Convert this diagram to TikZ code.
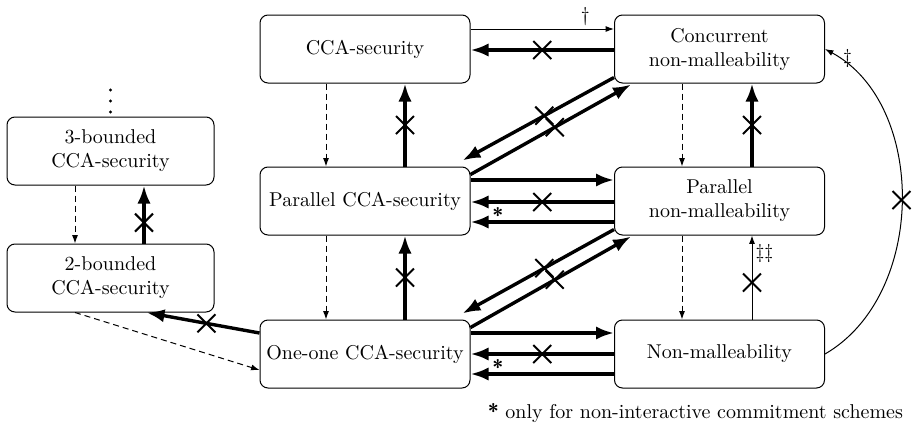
\documentclass[tikz,border=0pt]{standalone}
\usetikzlibrary{arrows.meta,shapes.misc,calc}
\newcommand{\onlynoninter}{{\sffamily\bfseries *}}
\begin{document}
\begin{tikzpicture}[x=0.5pt,y=-0.5pt,
  box/.style={draw, line width=0.5pt, rounded corners=4pt, minimum width=105pt,
    minimum height=34pt, align=center, inner sep=2pt},
  sidebox/.style={box, minimum width=103.5pt},
  imp/.style={line width=1.7pt, -{Latex[length=9pt,width=6.6pt]}},
  thinimp/.style={line width=0.5pt, -{Latex[length=4.2pt,width=3pt]}},
  dashimp/.style={line width=0.5pt, dash pattern=on 3pt off 2pt, -{Latex[length=4.2pt,width=3pt]}},
  xmark/.style={cross out, draw, solid, line width=1pt, minimum size=8pt, inner sep=0pt},
  note/.style={inner sep=1.5pt},
  starnote/.style={above, inner sep=0pt, yshift=-1pt},
  dot/.style={circle, fill, inner sep=0pt, minimum size=1.7pt}]
\useasboundingbox (0,0) rectangle (912,440);

% notions
\node[box] (cca)  at (365,49)   {CCA-security};
\node[box] (conc) at (719.5,49) {Concurrent\\non-malleability};
\node[box] (pcca) at (365,201)  {Parallel CCA-security};
\node[box] (pnm)  at (719.5,201){Parallel\\non-malleability};
\node[box] (one)  at (365,354)  {One-one CCA-security};
\node[box] (nm)   at (719.5,354){Non-malleability};
\node[sidebox] (b3) at (110.5,151) {3-bounded\\CCA-security};
\node[sidebox] (b2) at (110.5,278) {2-bounded\\CCA-security};

% vertical ellipsis above the bounded notions
\node[dot] (d1) at (110.5,90) {};
\node[dot] (d2) at (110.5,101) {};
\node[dot] (d3) at (110.5,112) {};

% left column
\draw[dashimp] ($(cca.south)+(-39,0)$) -- ($(pcca.north)+(-39,0)$);
\draw[imp] ($(pcca.north)+(40,0)$) -- node[xmark]{} ($(cca.south)+(40,0)$);
\draw[dashimp] ($(pcca.south)+(-39,0)$) -- ($(one.north)+(-39,0)$);
\draw[imp] ($(one.north)+(40,0)$) -- node[xmark]{} ($(pcca.south)+(40,0)$);

% right column
\draw[dashimp] ($(conc.south)+(-37.5,0)$) -- ($(pnm.north)+(-37.5,0)$);
\draw[imp] ($(pnm.north)+(32.5,0)$) -- node[xmark]{} ($(conc.south)+(32.5,0)$);
\draw[dashimp] ($(pnm.south)+(-37.5,0)$) -- ($(nm.north)+(-37.5,0)$);
\draw[thinimp] ($(nm.north)+(32.5,0)$) -- node[xmark,pos=0.44]{}
  node[right,note,pos=0.78]{\ddag\ddag} ($(pnm.south)+(32.5,0)$);

% top row
\draw[thinimp] ($(cca.east)+(0,-20)$) -- node[above,note,pos=0.8]{\dag} ($(conc.west)+(0,-20)$);
\draw[imp] ($(conc.west)+(0,1)$) -- node[xmark]{} ($(cca.east)+(0,1)$);

% middle row
\draw[imp] ($(pcca.east)+(0,-21)$) -- ($(pnm.west)+(0,-21)$);
\draw[imp] ($(pnm.west)+(0,1)$) -- node[xmark]{} ($(pcca.east)+(0,1)$);
\draw[imp] ($(pnm.west)+(0,21)$) -- node[starnote,pos=0.81]{\onlynoninter} ($(pcca.east)+(0,21)$);

% bottom row
\draw[imp] ($(one.east)+(0,-21)$) -- ($(nm.west)+(0,-21)$);
\draw[imp] ($(nm.west)+(0,0)$) -- node[xmark]{} ($(one.east)+(0,0)$);
\draw[imp] ($(nm.west)+(0,20)$) -- node[starnote,pos=0.81]{\onlynoninter} ($(one.east)+(0,20)$);

% diagonals
\draw[imp] ($(conc.south west)+(0,-6)$) -- node[xmark,pos=0.46]{} ($(pcca.north east)+(-8,-6)$);
\draw[imp] ($(pcca.north east)+(0,8)$) -- node[xmark,pos=0.525]{} ($(conc.south west)+(17,1)$);
\draw[imp] ($(pnm.south west)+(0,-6)$) -- node[xmark,pos=0.46]{} ($(one.north east)+(-8,-6)$);
\draw[imp] ($(one.north east)+(0,8)$) -- node[xmark,pos=0.525]{} ($(pnm.south west)+(17,1)$);

% bounded notions
\draw[dashimp] ($(b3.south)+(-35.5,0)$) -- ($(b2.north)+(-35.5,0)$);
\draw[imp] ($(b2.north)+(33.5,0)$) -- node[xmark,pos=0.36]{} ($(b3.south)+(33.5,0)$);
\draw[imp] ($(one.west)+(0,-21)$) -- node[xmark,pos=0.47]{} ($(b2.south)+(36,0)$);
\draw[dashimp] ($(b2.south)+(-35.5,0)$) -- ($(one.west)+(0,16)$);

% non-malleability to concurrent non-malleability
\draw[thinimp] (nm.east) .. controls +(102,-59) and +(102,55) .. node[xmark]{}
  node[right,note,pos=0.95]{\ddag} (conc.east);

% footnote
\node[anchor=east] (foot) at (910,413) {\onlynoninter{} only for non-interactive commitment schemes};
\end{tikzpicture}
\end{document}
